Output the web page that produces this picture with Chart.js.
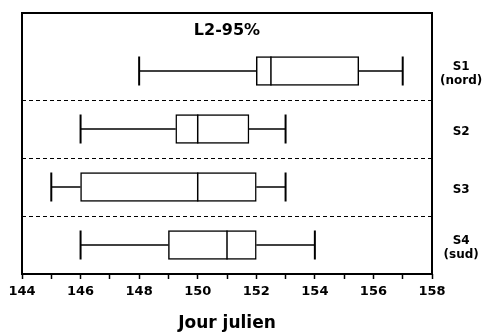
<!DOCTYPE html>
<html><head><meta charset="utf-8">
<script src="https://cdn.jsdelivr.net/npm/chart.js@4"></script>
<style>html,body{margin:0;padding:0;background:#fff}#wrap{width:488px;height:334px}</style>
</head><body>
<div id="wrap"><canvas id="c"></canvas></div>
<script>
const sites = ['S1', 'S2', 'S3', 'S4'];
const siteNotes = ['(nord)', '', '', '(sud)'];
const whiskerMin = [148, 146, 145, 146];
const q1 = [152, 149.25, 146, 149];
const median = [152.5, 150, 150, 151];
const q3 = [155.5, 151.75, 152, 152];
const whiskerMax = [157, 153, 153, 154];
const xTicks = [144, 146, 148, 150, 152, 154, 156, 158];
const chartTitle = 'L2-95%';
const xTitle = 'Jour julien';

const FONT = '"DejaVu Sans", sans-serif';

const boxExtras = {
  id: 'boxExtras',
  afterDatasetsDraw(chart) {
    const { ctx, chartArea: a, scales: { x, y } } = chart;
    const half = 14.5;
    ctx.save();
    ctx.strokeStyle = '#000';
    const line = (x1, y1, x2, y2, w) => {
      ctx.lineWidth = w;
      ctx.beginPath(); ctx.moveTo(x1, y1); ctx.lineTo(x2, y2); ctx.stroke();
    };
    sites.forEach((s, i) => {
      const yc = y.getPixelForValue(i + 1);
      const pMin = x.getPixelForValue(whiskerMin[i]);
      const pQ1 = x.getPixelForValue(q1[i]);
      const pMed = x.getPixelForValue(median[i]);
      const pQ3 = x.getPixelForValue(q3[i]);
      const pMax = x.getPixelForValue(whiskerMax[i]);
      line(pMin, yc, pQ1, yc, 1.5);
      line(pQ3, yc, pMax, yc, 1.5);
      line(pMin, yc - half, pMin, yc + half, 2);
      line(pMax, yc - half, pMax, yc + half, 2);
      line(pMed, yc - half, pMed, yc + half, 1.5);
    });
    ctx.fillStyle = '#000';
    ctx.font = 'bold 16px ' + FONT;
    ctx.textAlign = 'center';
    ctx.textBaseline = 'middle';
    ctx.fillText(chartTitle, (a.left + a.right) / 2, a.top + 18);
    ctx.lineWidth = 2;
    ctx.strokeRect(a.left, a.top, a.right - a.left, a.bottom - a.top);
    ctx.restore();
  }
};

const noVPad = s => { s.paddingTop = 0; s.paddingBottom = 0; };

new Chart(document.getElementById('c'), {
  type: 'bar',
  data: {
    datasets: [{
      yAxisID: 'y',
      data: sites.map((s, i) => ({ x: [q1[i], q3[i]], y: i + 1 })),
      backgroundColor: '#fff',
      borderColor: '#000',
      borderWidth: 1.5,
      borderSkipped: false,
      barThickness: 29
    }]
  },
  options: {
    indexAxis: 'y',
    responsive: true,
    maintainAspectRatio: false,
    animation: false,
    layout: { padding: { top: 13, left: 0, right: 0, bottom: 0 } },
    plugins: { legend: { display: false }, tooltip: { enabled: false } },
    scales: {
      x: {
        type: 'linear', min: 144, max: 158,
        ticks: {
          stepSize: 1, autoSkip: false, maxRotation: 0,
          callback: v => xTicks.includes(v) ? String(v) : '',
          font: { family: FONT, size: 13, weight: 'bold' }, color: '#000', padding: 5
        },
        grid: { drawOnChartArea: false, drawTicks: true, tickLength: 5, color: '#000', tickWidth: 1.5 },
        border: { display: false },
        title: { display: true, text: xTitle, color: '#000', font: { family: FONT, size: 17, weight: 'bold' }, padding: { top: 2, bottom: 0 } },
        afterFit: s => { s.height = 60; }
      },
      y: {
        type: 'linear', min: 0, max: 4.5, reverse: true, offset: false,
        afterBuildTicks: s => { s.ticks = [1.5, 2.5, 3.5].map(v => ({ value: v })); },
        ticks: { display: false },
        grid: { color: '#000', lineWidth: 1, drawTicks: false, offset: false },
        border: { display: false, dash: [4, 3] },
        afterFit: s => { s.width = 22; noVPad(s); }
      },
      y2: {
        type: 'linear', position: 'right', min: 0, max: 4.5, reverse: true, offset: false,
        afterBuildTicks: s => { s.ticks = sites.map((t, i) => ({ value: i + 1 })); },
        ticks: {
          autoSkip: false,
          callback: v => { const i = Math.round(v) - 1; return siteNotes[i] ? [sites[i], siteNotes[i]] : sites[i]; },
          font: { family: FONT, size: 12, weight: 'bold' }, color: '#000',
          crossAlign: 'center', padding: 8, labelOffset: 3
        },
        grid: { display: false, drawTicks: false, offset: false },
        border: { display: false },
        afterFit: s => { s.width = 56; noVPad(s); }
      }
    }
  },
  plugins: [boxExtras]
});
</script>
</body></html>
